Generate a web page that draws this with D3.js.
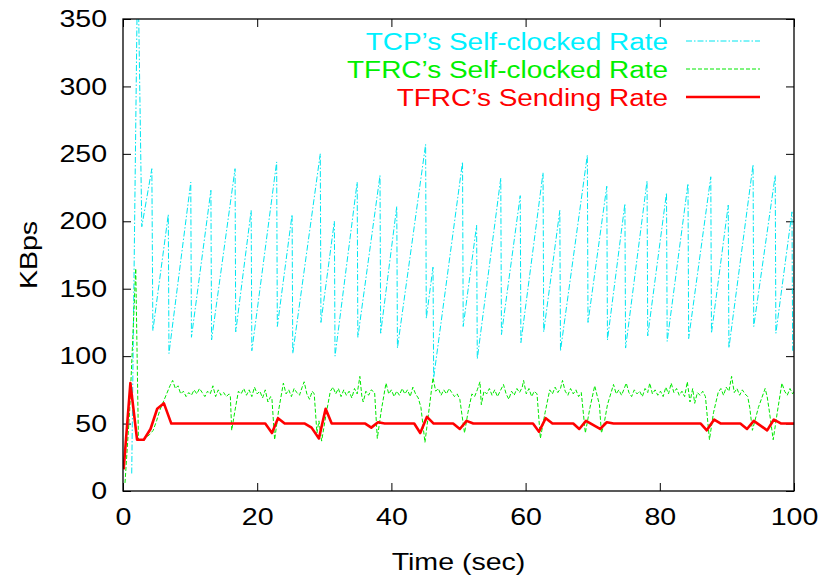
<!DOCTYPE html>
<html>
<head>
<meta charset="utf-8">
<script src="https://cdn.jsdelivr.net/npm/d3@7"></script>
<style>
  body { margin: 0; background: #fff; }
  svg text { font-family: "Liberation Sans", Arial, Helvetica, sans-serif; }
</style>
</head>
<body>
<div id="chart"></div>
<script>
// tick labels
const xTicks = [0, 20, 40, 60, 80, 100];
const yTicks = [0, 50, 100, 150, 200, 250, 300, 350];
const seriesNames = ["TCP\u2019s Self-clocked Rate", "TFRC\u2019s Self-clocked Rate", "TFRC\u2019s Sending Rate"];

// [time (sec), KBps]
const tcpRate = [
  [1.3, 13], [2.2, 400], [2.8, 196], [4.3, 239], [4.45, 119], [6.75, 205], [6.85, 102],
  [10.1, 229], [10.2, 114], [13.1, 223], [13.2, 112], [16.7, 239], [16.8, 118],
  [19.1, 208], [19.2, 104], [22.9, 244], [23.0, 122], [25.2, 205], [25.3, 102],
  [29.4, 250], [29.5, 125], [31.5, 200], [31.6, 100], [34.9, 229], [35.0, 114],
  [38.3, 234], [38.4, 117], [40.8, 211], [40.9, 106], [45.1, 257], [45.2, 128],
  [46.2, 166], [46.3, 84], [50.6, 244], [50.7, 122], [52.7, 197], [52.8, 98],
  [56.3, 232], [56.4, 116], [59.2, 219], [59.3, 110], [62.6, 236], [62.7, 118],
  [65.1, 208], [65.2, 104], [69.2, 249], [69.3, 125], [72.1, 226], [72.2, 112],
  [74.8, 213], [74.9, 106], [78.1, 230], [78.2, 115], [81.0, 221], [81.1, 111],
  [84.2, 228], [84.3, 113], [87.6, 233], [87.7, 117], [90.2, 212], [90.3, 106],
  [93.9, 242], [94.0, 122], [97.2, 234], [97.3, 117], [99.7, 207], [99.8, 104]
];

const tfrcSelfClocked = [
  [0.3, 6], [1.0, 60], [1.9, 165], [2.3, 38], [3.0, 38], [3.5, 40], [4.0, 42], [4.5, 45],
  [5.0, 52], [5.5, 60], [6.0, 66], [6.5, 72], [7.0, 78], [7.4, 82], [7.8, 76], [8.2, 78],
  [8.6, 72], [9.0, 74], [9.4, 70], [9.8, 73], [10.2, 71], [10.6, 75], [11.0, 72], [11.4, 76],
  [11.8, 73], [12.2, 70], [12.6, 74], [13.0, 72], [13.4, 78], [13.8, 70], [14.2, 75], [14.6, 71],
  [15.0, 73], [15.4, 70], [15.8, 72], [16.0, 70], [16.2, 45], [16.7, 60], [17.2, 74], [17.6, 72],
  [18.0, 76], [18.4, 71], [18.8, 75], [19.2, 70], [19.6, 77], [20.0, 72], [20.4, 74], [20.8, 69],
  [21.2, 75], [21.6, 66], [22.0, 70], [22.2, 68], [22.6, 38], [23.2, 60], [23.9, 80], [24.3, 72],
  [24.7, 75], [25.1, 70], [25.5, 76], [25.9, 73], [26.3, 71], [26.7, 77], [27.0, 81], [27.4, 72],
  [27.8, 68], [28.2, 74], [28.5, 72], [28.9, 43], [29.2, 52], [29.6, 37], [30.2, 55], [30.9, 74],
  [31.3, 77], [31.7, 72], [32.1, 76], [32.5, 70], [32.9, 75], [33.3, 71], [33.7, 74], [34.1, 69],
  [34.5, 76], [34.9, 72], [35.3, 85], [35.6, 70], [35.8, 66], [36.2, 74], [36.6, 71], [37.0, 75],
  [37.5, 73], [37.9, 39], [38.5, 60], [39.2, 80], [39.6, 72], [40.0, 75], [40.4, 70], [40.8, 74],
  [41.2, 71], [41.6, 76], [42.0, 72], [42.4, 75], [42.8, 70], [43.2, 77], [43.6, 72], [44.0, 69],
  [44.4, 62], [45.0, 36], [45.6, 60], [46.2, 84], [46.6, 74], [47.0, 76], [47.4, 71], [47.8, 75],
  [48.2, 72], [48.6, 76], [49.0, 73], [49.4, 70], [49.8, 72], [50.2, 68], [50.5, 57], [50.9, 43],
  [51.4, 58], [52.0, 72], [52.4, 70], [52.8, 75], [53.2, 81], [53.4, 64], [53.8, 74], [54.2, 72],
  [54.6, 76], [55.0, 71], [55.4, 75], [55.8, 70], [56.2, 74], [56.7, 79], [57.1, 72], [57.5, 68],
  [57.9, 74], [58.3, 71], [58.7, 76], [59.1, 73], [59.5, 77], [59.7, 82], [60.1, 72], [60.5, 76],
  [60.9, 70], [61.3, 74], [61.7, 72], [62.2, 39], [62.9, 58], [63.6, 75], [64.0, 72], [64.4, 77],
  [64.8, 73], [65.2, 76], [65.5, 82], [65.9, 74], [66.3, 71], [66.7, 76], [67.1, 72], [67.5, 75],
  [67.9, 70], [68.3, 73], [68.9, 43], [69.6, 62], [70.3, 78], [70.7, 70], [71.0, 64], [71.3, 43],
  [71.7, 50], [72.2, 64], [73.1, 79], [73.5, 72], [73.9, 75], [74.3, 71], [74.7, 76], [75.0, 80],
  [75.4, 73], [75.8, 70], [76.2, 75], [76.6, 72], [77.0, 74], [77.4, 70], [77.8, 76], [78.2, 73],
  [78.5, 80], [78.9, 72], [79.3, 75], [79.7, 71], [80.1, 74], [80.5, 70], [80.9, 77], [81.3, 72],
  [81.7, 80], [82.1, 73], [82.5, 76], [82.9, 71], [83.3, 74], [83.7, 70], [84.1, 81], [84.5, 66],
  [84.9, 76], [85.2, 65], [85.6, 73], [86.0, 71], [86.4, 74], [86.8, 70], [87.4, 38], [88.0, 58],
  [88.7, 73], [89.1, 76], [89.5, 71], [89.9, 77], [90.3, 74], [90.7, 85], [91.1, 73], [91.5, 76],
  [91.9, 71], [92.3, 75], [92.7, 72], [93.1, 70], [93.4, 62], [93.8, 45], [94.7, 62], [95.7, 76],
  [96.0, 70], [96.3, 60], [96.9, 38], [97.5, 58], [98.2, 80], [98.6, 74], [99.0, 71], [99.4, 76],
  [99.8, 72], [100, 74]
];

const tfrcSending = [
  [0.1, 16], [1.1, 80], [2.1, 38], [3.1, 38], [4.1, 46], [5.1, 61], [6.1, 65], [7.2, 50],
  [21.2, 50], [22.2, 43], [23.1, 54], [24.1, 50], [27.1, 50], [28.1, 47], [29.2, 39], [30.2, 61],
  [31.1, 50], [36.1, 50], [37.0, 47], [38.0, 51], [39.0, 50], [43.4, 50], [44.3, 43], [45.3, 55],
  [46.3, 50], [49.2, 50], [50.2, 46], [51.2, 52], [52.2, 50], [61.1, 50], [62.0, 44], [63.0, 54],
  [64.0, 50], [67.1, 50], [68.0, 46], [69.0, 52], [71.1, 46], [72.1, 51], [73.1, 50], [86.1, 50],
  [87.0, 45], [88.1, 53], [89.1, 50], [92.0, 50], [93.0, 46], [94.0, 52], [96.0, 45], [97.0, 53],
  [98.1, 50], [100, 50]
];

const margin = { top: 19, right: 28, bottom: 91, left: 123 },
    width = 822 - margin.left - margin.right,
    height = 582 - margin.top - margin.bottom;

const svg = d3.select("#chart")
  .append("svg")
  .attr("width", 822)
  .attr("height", 582)
  .append("g")
  .attr("transform", `translate(${margin.left},${margin.top})`);

const x = d3.scaleLinear().domain([0, 100]).range([0, width]);
const y = d3.scaleLinear().domain([0, 350]).range([height, 0]);

// clip so the start-up spike is cut at the frame
svg.append("clipPath").attr("id", "clip")
  .append("rect").attr("width", width).attr("height", height);

// axes with inward ticks on all four sides
const xAxis = svg.append("g")
  .attr("transform", `translate(0,${height})`)
  .call(d3.axisBottom(x).tickValues(xTicks).tickSize(-8).tickPadding(17));
svg.append("g").call(d3.axisTop(x).tickValues(xTicks).tickSize(-8).tickFormat(""));
const yAxis = svg.append("g")
  .call(d3.axisLeft(y).tickValues(yTicks).tickSize(-8).tickPadding(13));
svg.append("g")
  .attr("transform", `translate(${width},0)`)
  .call(d3.axisRight(y).tickValues(yTicks).tickSize(-8).tickFormat(""));

svg.selectAll(".domain").remove();
svg.selectAll(".tick line").attr("stroke", "#000").attr("stroke-width", 1);
svg.selectAll(".tick text")
  .attr("fill", "#000")
  .style("font-size", "24px")
  .attr("transform", "scale(1.19,1)");
yAxis.selectAll(".tick text").attr("x", -13.4);

const line = d3.line().x(d => x(d[0])).y(d => y(d[1]));
const plot = svg.append("g").attr("clip-path", "url(#clip)");

const styles = [
  { data: tcpRate, color: "#00e6f0", width: 1, dash: "6,2,1.5,2" },
  { data: tfrcSelfClocked, color: "#00e800", width: 1, dash: "4,2" },
  { data: tfrcSending, color: "#ff0000", width: 2.6, dash: null }
];

styles.forEach(s => {
  plot.append("path")
    .datum(s.data)
    .attr("fill", "none")
    .attr("stroke", s.color)
    .attr("stroke-width", s.width)
    .attr("stroke-dasharray", s.dash)
    .attr("stroke-linejoin", "round")
    .attr("d", line);
});

// frame
svg.append("rect")
  .attr("width", width).attr("height", height)
  .attr("fill", "none").attr("stroke", "#000").attr("stroke-width", 1.3);

// legend
const legendY = [22, 50, 78];
const legendText = ["#00f0ff", "#00f000", "#ff0000"];
seriesNames.forEach((name, i) => {
  const g = svg.append("g").attr("transform", `translate(0,${legendY[i]})`);
  g.append("text")
    .attr("transform", `translate(${545},8.6) scale(1.19,1)`)
    .attr("text-anchor", "end")
    .attr("fill", legendText[i])
    .style("font-size", "23.5px")
    .text(name);
  g.append("line")
    .attr("x1", 563).attr("x2", 637)
    .attr("stroke", styles[i].color)
    .attr("stroke-width", styles[i].width)
    .attr("stroke-dasharray", styles[i].dash);
});

// axis titles
svg.append("text")
  .attr("transform", `translate(${width / 2},${height + 79}) scale(1.19,1)`)
  .attr("text-anchor", "middle")
  .style("font-size", "24px")
  .text("Time (sec)");

svg.append("text")
  .attr("transform", `translate(${-86},${height / 2}) rotate(-90) scale(1.19,1)`)
  .attr("text-anchor", "middle")
  .style("font-size", "24px")
  .text("KBps");
</script>
</body>
</html>
